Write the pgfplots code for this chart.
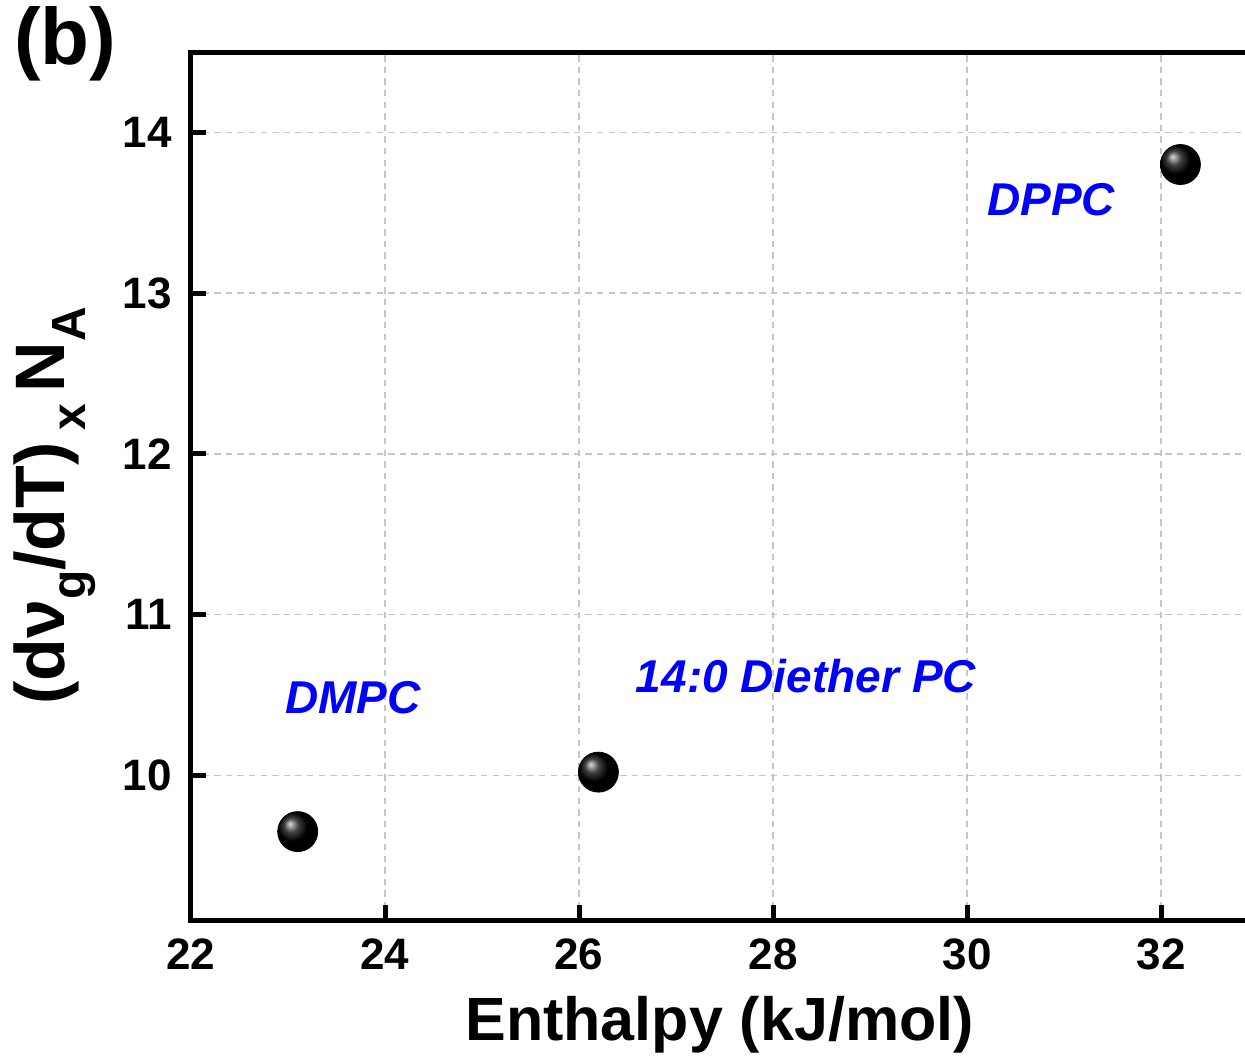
\documentclass[border=0pt]{standalone}
\usepackage{fontspec}
\setmainfont{Liberation Sans}
\usepackage{pgfplots}
\pgfplotsset{compat=1.18}
\newcommand{\sub}[1]{\raisebox{-0.3em}{\fontsize{24}{26}\selectfont #1}}
\begin{document}
\begin{tikzpicture}
\begin{axis}[
  scale only axis,
  width=528.65pt, height=434pt,
  xmin=22, xmax=32.9, ymin=9.1, ymax=14.5,
  xtick={22,24,...,32}, ytick={10,11,...,14},
  axis line style={line width=2.5pt},
  every tick/.style={line width=2.5pt, black},
  major tick length=7.5pt,
  tick align=inside,
  xtick pos=bottom, ytick pos=left,
  grid=major,
  major grid style={gray!45, line width=0.75pt, dash pattern=on 3.2pt off 2.6pt},
  /pgf/number format/assume math mode=true,
  ticklabel style={font=\fontsize{22}{26}\selectfont\bfseries},
  xticklabel style={yshift=-6pt},
  yticklabel style={xshift=-6pt},
  xlabel={Enthalpy (kJ/mol)},
  xlabel style={font=\fontsize{30.5}{34}\selectfont\bfseries, yshift=-6pt},
  ylabel={(dν\sub{g}/dT)\,\sub{x}\,N\sub{A}},
  ylabel style={font=\fontsize{35}{38}\selectfont\bfseries, yshift=7pt, xshift=-10pt},
  clip=false,
]
\addplot[only marks, mark=ball, mark size=10pt, mark options={ball color=black}] coordinates {
  (23.1,9.65) (26.2,10.02) (32.2,13.80)
};
\node[text=blue, font=\fontsize{23}{26}\selectfont\bfseries\itshape] at (axis cs:23.67,10.485) {DMPC};
\node[text=blue, font=\fontsize{23}{26}\selectfont\bfseries\itshape] at (axis cs:28.34,10.616) {14:0 Diether PC};
\node[text=blue, font=\fontsize{23}{26}\selectfont\bfseries\itshape] at (axis cs:30.866,13.58) {DPPC};
\node[font=\fontsize{40}{44}\selectfont\bfseries] at (rel axis cs:-0.119,1.01) {(b)};
\end{axis}
\pgfresetboundingbox
\useasboundingbox (-95.5pt,-68.5pt) rectangle (527pt,460pt);
\end{tikzpicture}
\end{document}
